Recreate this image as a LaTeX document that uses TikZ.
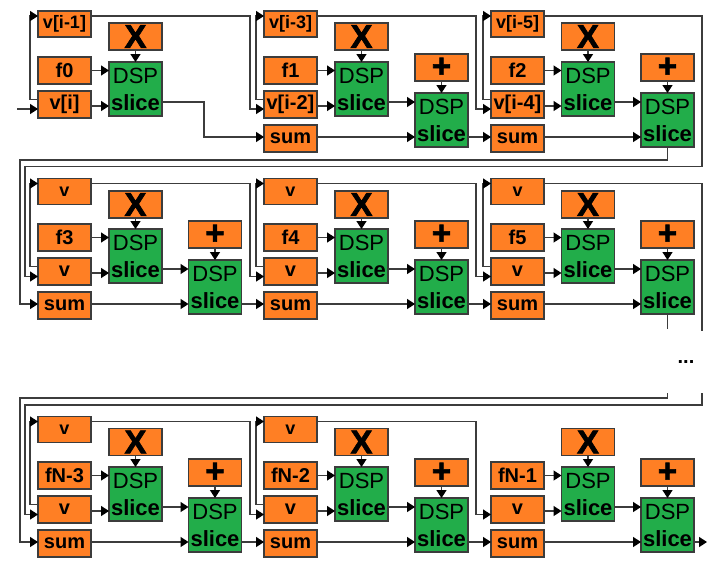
\documentclass[tikz,border=0pt]{standalone}
\usepackage{fontspec}
\setmainfont{Liberation Sans}
\usetikzlibrary{arrows.meta}
\definecolor{regorange}{HTML}{FF7F24}
\definecolor{dspgreen}{HTML}{22AD4A}
\definecolor{wiregray}{HTML}{3C3C3C}
\newcommand{\dsplabel}{DSP\\\textbf{slice}}
\begin{document}
\begin{tikzpicture}[x=1pt,y=-1pt]
	\tikzstyle{box}=[draw=wiregray,line width=1.4pt,inner sep=0pt,outer sep=0pt,minimum width=53pt,text=black]
	\tikzstyle{reg}=[box,fill=regorange,minimum height=27pt,font=\bfseries\fontsize{20}{20}\selectfont]
	\tikzstyle{regtop}=[reg,minimum height=26pt,font=\bfseries\fontsize{18}{18}\selectfont]
	\tikzstyle{op}=[reg,font=\bfseries\fontsize{33}{33}\selectfont\addfontfeature{FakeBold=2}]
	\tikzstyle{dsp}=[box,fill=dspgreen,minimum height=54pt,align=center,font=\fontsize{22}{27}\selectfont]
	\tikzstyle{edge}=[draw,line width=1.5pt,wiregray]
	\tikzstyle{wire}=[edge,-{Triangle[length=8pt,width=10pt,color=black]}]
	\useasboundingbox (0,0) rectangle (723,582);
	% first row
	\node[regtop] (vtA0) at (64.5,24) {v[i-1]};
	\node[reg] (fA0) at (64.5,70.5) {f0};
	\node[reg] (vbA0) at (64.5,104.5) {v[i]};
	\node[op] (mxA0) at (135.5,36.5) {X};
	\node[dsp] (dsA0) at (135.5,89) {\dsplabel};
	\node[regtop] (vtA1) at (290.5,24) {v[i-3]};
	\node[reg] (fA1) at (290.5,70.5) {f1};
	\node[reg] (vbA1) at (290.5,104.5) {v[i-2]};
	\node[reg] (smA1) at (290.5,138.5) {sum};
	\node[op] (mxA1) at (361.5,36.5) {X};
	\node[dsp] (dsA1) at (361.5,89) {\dsplabel};
	\node[op] (adA1) at (441.5,67.5) {+};
	\node[dsp] (daA1) at (441.5,120) {\dsplabel};
	\node[regtop] (vtA2) at (517.5,24) {v[i-5]};
	\node[reg] (fA2) at (517.5,70.5) {f2};
	\node[reg] (vbA2) at (517.5,104.5) {v[i-4]};
	\node[reg] (smA2) at (517.5,138.5) {sum};
	\node[op] (mxA2) at (588,36.5) {X};
	\node[dsp] (dsA2) at (588,89) {\dsplabel};
	\node[op] (adA2) at (667.5,67.5) {+};
	\node[dsp] (daA2) at (667.5,120) {\dsplabel};
	% second row
	\node[regtop] (vtB0) at (64.5,191.5) {v};
	\node[reg] (fB0) at (64.5,237.5) {f3};
	\node[reg] (vbB0) at (64.5,271.5) {v};
	\node[reg] (smB0) at (64.5,305.5) {sum};
	\node[op] (mxB0) at (135.5,204.5) {X};
	\node[dsp] (dsB0) at (135.5,256) {\dsplabel};
	\node[op] (adB0) at (215,234.5) {+};
	\node[dsp] (daB0) at (215,287) {\dsplabel};
	\node[regtop] (vtB1) at (290.5,191.5) {v};
	\node[reg] (fB1) at (290.5,237.5) {f4};
	\node[reg] (vbB1) at (290.5,271.5) {v};
	\node[reg] (smB1) at (290.5,305.5) {sum};
	\node[op] (mxB1) at (361.5,204.5) {X};
	\node[dsp] (dsB1) at (361.5,256) {\dsplabel};
	\node[op] (adB1) at (441.5,234.5) {+};
	\node[dsp] (daB1) at (441.5,287) {\dsplabel};
	\node[regtop] (vtB2) at (517.5,191.5) {v};
	\node[reg] (fB2) at (517.5,237.5) {f5};
	\node[reg] (vbB2) at (517.5,271.5) {v};
	\node[reg] (smB2) at (517.5,305.5) {sum};
	\node[op] (mxB2) at (588,204.5) {X};
	\node[dsp] (dsB2) at (588,256) {\dsplabel};
	\node[op] (adB2) at (667.5,234.5) {+};
	\node[dsp] (daB2) at (667.5,287) {\dsplabel};
	% third row
	\node[regtop] (vtC0) at (64.5,429.5) {v};
	\node[reg] (fC0) at (64.5,475.5) {fN-3};
	\node[reg] (vbC0) at (64.5,509.5) {v};
	\node[reg] (smC0) at (64.5,543.5) {sum};
	\node[op] (mxC0) at (135.5,442) {X};
	\node[dsp] (dsC0) at (135.5,494) {\dsplabel};
	\node[op] (adC0) at (215,472.5) {+};
	\node[dsp] (daC0) at (215,525) {\dsplabel};
	\node[regtop] (vtC1) at (290.5,429.5) {v};
	\node[reg] (fC1) at (290.5,475.5) {fN-2};
	\node[reg] (vbC1) at (290.5,509.5) {v};
	\node[reg] (smC1) at (290.5,543.5) {sum};
	\node[op] (mxC1) at (361.5,442) {X};
	\node[dsp] (dsC1) at (361.5,494) {\dsplabel};
	\node[op] (adC1) at (441.5,472.5) {+};
	\node[dsp] (daC1) at (441.5,525) {\dsplabel};
	\node[reg] (fC2) at (517.5,475.5) {fN-1};
	\node[reg] (vbC2) at (517.5,509.5) {v};
	\node[reg] (smC2) at (517.5,543.5) {sum};
	\node[op] (mxC2) at (588,442) {X};
	\node[dsp] (dsC2) at (588,494) {\dsplabel};
	\node[op] (adC2) at (667.5,472.5) {+};
	\node[dsp] (daC2) at (667.5,525) {\dsplabel};
	% the break between second and third row
	\node[font=\bfseries\fontsize{20}{20}\selectfont,text=black] (dots) at (686,362) {...};
	\coordinate (in) at (17,109);
	\coordinate (out) at (707,542);
	\coordinate (brka) at (702,331);
	\coordinate (brkb) at (667.5,329);
	\coordinate (rsta) at (702,393);
	\coordinate (rstb) at (667.5,393);
	% inputs of the slices
	\foreach \n in {A0,A1,A2,B0,B1,B2,C0,C1,C2} {
		\draw[wire] (f\n.east) -- ([yshift=18.5pt]ds\n.west);
		\draw[wire] ([yshift=-1.5pt]vb\n.east) -- ([yshift=-17pt]ds\n.west);
		\draw[wire] (mx\n.south) -- (ds\n.north);
	}
	\foreach \n in {A1,A2,B0,B1,B2,C0,C1,C2} {
		\draw[wire] ([yshift=-13pt]ds\n.east) -- ([yshift=18pt]da\n.west);
		\draw[wire] (ad\n.south) -- (da\n.north);
		\draw[wire] ([yshift=1.5pt]sm\n.east) -- ([yshift=-17pt]da\n.west);
	}
	% sum chain
	\draw[wire] ([yshift=-13pt]dsA0.east) -- ++(42,0) |- ([yshift=1.5pt]smA1.west);
	\draw[wire] ([yshift=-17pt]daA1.east) -- ([yshift=1.5pt]smA2.west);
	\draw[wire] ([yshift=-17pt]daB0.east) -- ([yshift=1.5pt]smB1.west);
	\draw[wire] ([yshift=-17pt]daB1.east) -- ([yshift=1.5pt]smB2.west);
	\draw[wire] ([yshift=-17pt]daC0.east) -- ([yshift=1.5pt]smC1.west);
	\draw[wire] ([yshift=-17pt]daC1.east) -- ([yshift=1.5pt]smC2.west);
	\draw[wire] ([yshift=-17pt]daC2.east) -- (out);
	% delay line
	\draw[wire] (in) -- ([yshift=-4.5pt]vbA0.west);
	\foreach \n in {A0,A1,A2,B0,B1,B2,C0,C1} {
		\draw[wire] ([yshift=5pt]vb\n.west) -- ++(-8,0) |- ([yshift=8pt]vt\n.west);
	}
	\draw[wire] ([yshift=8pt]vtA0.east) -- ++(159,0) |- ([yshift=-4.5pt]vbA1.west);
	\draw[wire] ([yshift=8pt]vtA1.east) -- ++(159,0) |- ([yshift=-4.5pt]vbA2.west);
	\draw[wire] ([yshift=8pt]vtB0.east) -- ++(159,0) |- ([yshift=-5pt]vbB1.west);
	\draw[wire] ([yshift=8pt]vtB1.east) -- ++(159,0) |- ([yshift=-5pt]vbB2.west);
	\draw[wire] ([yshift=8pt]vtC0.east) -- ++(159,0) |- ([yshift=-5pt]vbC1.west);
	\draw[wire] ([yshift=8pt]vtC1.east) -- ++(159,0) |- ([yshift=-5pt]vbC2.west);
	% wrap around to the next row
	\draw[wire] ([yshift=8pt]vtA2.east) -- ++(158,0) -- ++(0,150.5) -- ++(-677,0) |- ([yshift=-5pt]vbB0.west);
	\draw[wire] (daA2.south) -- ++(0,13) -- ++(-647.5,0) |- ([yshift=1.5pt]smB0.west);
	\draw[edge] ([yshift=8pt]vtB2.east) -| (brka);
	\draw[edge] (daB2.south) -- (brkb);
	\draw[wire] (rsta) -- ++(0,12) -- ++(-677,0) |- ([yshift=-5pt]vbC0.west);
	\draw[wire] (rstb) -- ++(0,5) -- ++(-647.5,0) |- ([yshift=1.5pt]smC0.west);
\end{tikzpicture}
\end{document}
